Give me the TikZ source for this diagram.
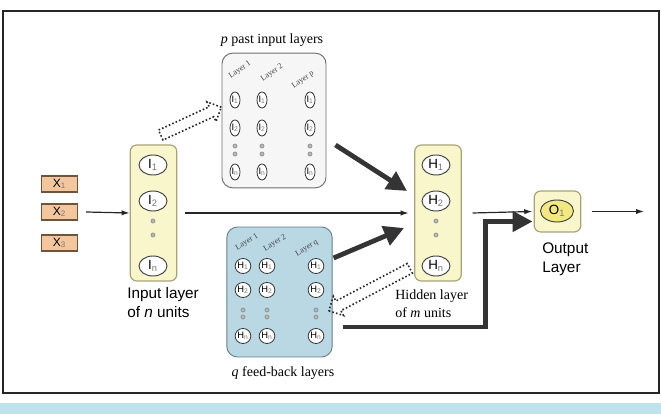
\documentclass[tikz,border=0pt]{standalone}
\usepackage{fontspec}
\setmainfont{Liberation Serif}
\setsansfont{Liberation Sans}
\usepackage{xcolor}
\usetikzlibrary{shapes.geometric, shapes.arrows, arrows.meta, positioning, calc}
\definecolor{unitfill}{RGB}{248,246,202}
\definecolor{unitedge}{RGB}{168,164,118}
\definecolor{xfill}{RGB}{244,198,158}
\definecolor{xedge}{RGB}{110,84,60}
\definecolor{pastfill}{RGB}{246,246,246}
\definecolor{pastedge}{RGB}{110,110,110}
\definecolor{fbfill}{RGB}{186,216,228}
\definecolor{fbedge}{RGB}{100,128,138}
\definecolor{outfill}{RGB}{242,232,128}
\definecolor{heavy}{RGB}{52,52,52}
\definecolor{subgray}{RGB}{120,120,120}
\definecolor{capband}{RGB}{192,226,236}

\begin{document}
\begin{tikzpicture}[x=0.75pt, y=0.75pt, >=Stealth]
  \tikzstyle{xbox} = [rectangle, draw=xedge, fill=xfill, line width=0.8pt, minimum width=27pt, minimum height=12pt, inner sep=0pt, font=\sffamily\fontsize{9}{10}\selectfont]
  \tikzstyle{layer} = [rectangle, rounded corners=5pt, draw=unitedge, fill=unitfill, line width=0.9pt, minimum width=35pt, minimum height=102pt]
  \tikzstyle{unit} = [ellipse, draw=black!75, fill=white, line width=0.7pt, minimum width=21pt, minimum height=15pt, inner sep=0pt, font=\sffamily\fontsize{10}{10}\selectfont]
  \tikzstyle{tinydot} = [circle, draw=gray!90, fill=gray!55, line width=0.5pt, minimum size=3pt, inner sep=0pt]
  \tikzstyle{pastlayers} = [rectangle, rounded corners=8pt, draw=pastedge, fill=pastfill, line width=0.7pt, minimum width=78pt, minimum height=101pt]
  \tikzstyle{fblayers} = [pastlayers, fill=fbfill, draw=fbedge, minimum width=79pt, minimum height=97.5pt]
  \tikzstyle{pastunit} = [ellipse, draw=black!80, fill=white, line width=0.6pt, minimum width=7.5pt, minimum height=12pt, inner sep=0pt, font=\sffamily\fontsize{7}{7}\selectfont]
  \tikzstyle{fbunit} = [pastunit, minimum width=9pt, minimum height=11.25pt]
  \tikzstyle{layertag} = [font=\fontsize{6}{6}\selectfont, text=black!75, inner sep=0pt]
  \tikzstyle{flow} = [-{Latex[length=6pt,width=4pt]}, line width=0.9pt, black!85]
  \tikzstyle{heavyarrow} = [-{Triangle[length=15pt,width=15pt]}, line width=3.6pt, heavy]
  \tikzstyle{dotarrow} = [single arrow, draw=black!85, line width=1.2pt, dash pattern=on 1.2pt off 1.6pt, inner sep=3.5pt, single arrow head extend=4pt]
  \tikzstyle{sanslabel} = [align=left, inner sep=0pt, font=\sffamily\fontsize{11.5}{14.25}\selectfont]
  \tikzstyle{seriflabel} = [align=left, inner sep=0pt, font=\fontsize{10.5}{13.5}\selectfont]

  \useasboundingbox (0,0) rectangle (661,414);
  \fill[capband] (0,0) rectangle (661,11);
  \draw[line width=1.5pt, black!85] (3,21) rectangle (659,403);

  % inputs
  \node[xbox] (x1) at (59.5,230) {X\textsubscript{\color{subgray}1}};
  \node[xbox] (x2) at (59.5,202) {X\textsubscript{\color{subgray}2}};
  \node[xbox] (x3) at (59.5,171) {X\textsubscript{\color{subgray}3}};

  % input and hidden layers
  \node[layer] (inp) at (153.5,201) {};
  \node[layer] (hid) at (438,201) {};
  \node[unit] (i1) at (153,249) {I\textsubscript{\color{subgray}1}};
  \node[unit] (i2) at (153,213) {I\textsubscript{\color{subgray}2}};
  \node[tinydot] (idot1) at (153,193) {};
  \node[tinydot] (idot2) at (153,179) {};
  \node[unit] (in) at (153,148) {I\textsubscript{\color{subgray}n}};
  \node[unit] (h1) at (436,249) {H\textsubscript{\color{subgray}1}};
  \node[unit] (h2) at (436,213) {H\textsubscript{\color{subgray}2}};
  \node[tinydot] (hdot1) at (436,193) {};
  \node[tinydot] (hdot2) at (436,179) {};
  \node[unit] (hn) at (436,148) {H\textsubscript{\color{subgray}n}};

  \node[sanslabel, anchor=west] (inplbl) at (127,111.5) {Input layer\\of \textit{n} units};
  \node[seriflabel, anchor=west] (hidlbl) at (395,110) {Hidden layer\\of \textit{m} units};

  % past input layers
  \node[pastlayers] (past) at (274,293.5) {};
  \node[seriflabel] (pastlbl) at (272,374) {\textit{p} past input layers};
  \node[layertag, rotate=35] (pasttag1) at (240,344) {Layer 1};
  \node[layertag, rotate=35] (pasttag2) at (272,341) {Layer 2};
  \node[layertag, rotate=35] (pasttagp) at (303,334) {Layer p};
  \foreach \col/\cx in {1/235, 2/262, p/310} {
    \foreach \row/\ry in {1/314, 2/286, n/242}
      \node[pastunit] (past-\col-\row) at (\cx,\ry) {I\textsubscript{\color{subgray}\row}};
    \node[tinydot] (pastdot-\col-a) at (\cx,268) {};
    \node[tinydot] (pastdot-\col-b) at (\cx,260) {};
  }

  % feed-back layers
  \node[fblayers] (fb) at (279.5,122) {};
  \node[seriflabel] (fblbl) at (283,41) {\textit{q} feed-back layers};
  \node[layertag, rotate=32] (fbtag1) at (247,172) {Layer 1};
  \node[layertag, rotate=32] (fbtag2) at (275,171) {Layer 2};
  \node[layertag, rotate=32] (fbtagq) at (307,166) {Layer q};
  \foreach \col/\cx in {1/243, 2/267, q/316} {
    \foreach \row/\ry in {1/148, 2/124, n/78}
      \node[fbunit] (fb-\col-\row) at (\cx,\ry) {H\textsubscript{\color{subgray}\row}};
    \node[tinydot] (fbdot-\col-a) at (\cx,104) {};
    \node[tinydot] (fbdot-\col-b) at (\cx,97) {};
  }

  % output
  \node[layer, minimum width=35pt, minimum height=30.75pt] (out) at (557.5,202.5) {};
  \node[unit, fill=outfill, minimum width=24.75pt, minimum height=16.5pt] (o1) at (557,203) {O\textsubscript{\color{subgray}1}};
  \node[sanslabel, anchor=west] (outlbl) at (542,155) {Output\\Layer};
  \coordinate (yend) at (644,202.5);

  % connections
  \draw[flow] ([xshift=6]x2.east) -- (inp.west);
  \draw[flow] ([xshift=6]inp.east) -- ([xshift=-4]hid.west);
  \draw[flow] ([xshift=8]hid.east) -- ([xshift=-1]out.west);
  \draw[flow] ([xshift=8]out.east) -- (yend);
  \draw[heavyarrow] ([shift={(9,-24.5)}]past.east) -- ([shift={(-7,22)}]hid.west);
  \draw[heavyarrow] ([shift={(1,34)}]fb.east) -- ([shift={(-10,-15)}]hid.west);
  \draw[heavyarrow] ([shift={(10,-35)}]fb.east) -| ([shift={(-48,-10)}]out.west) -- ([shift={(-1,-10)}]out.west);
  \node[dotarrow, rotate=24.7, anchor=tail, minimum height=50pt] (pastarrow) at ([shift={(6.5,9)}]inp.north) {};
  \node[dotarrow, rotate=207.7, anchor=tail, minimum height=68.6pt] (fbarrow) at ([shift={(-11,-2)}]hn.west) {};
\end{tikzpicture}
\end{document}
